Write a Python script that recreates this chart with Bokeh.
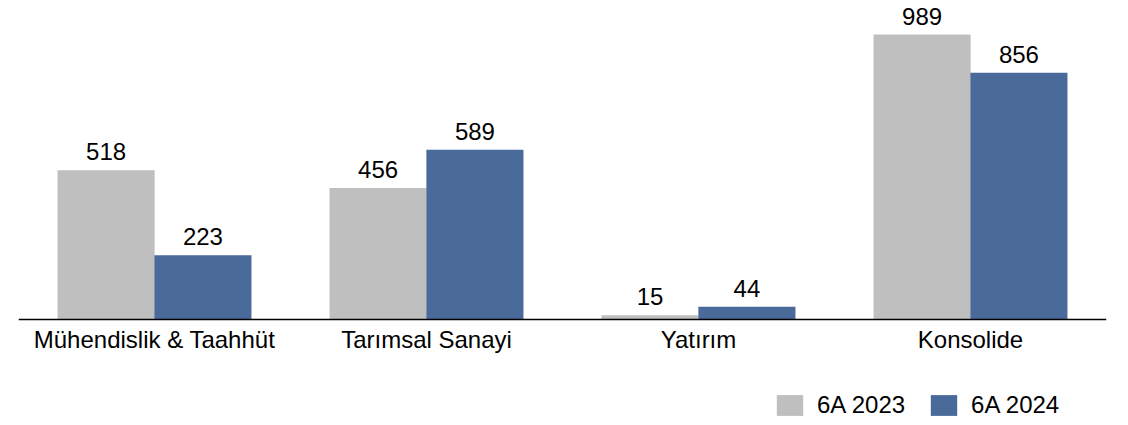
from bokeh.plotting import figure
from bokeh.models import ColumnDataSource, FactorRange, Legend, LegendItem, Range1d, LabelSet
from bokeh.transform import dodge
from bokeh.core.properties import value
from bokeh.embed import file_html
from bokeh.resources import INLINE

categories = ["Mühendislik & Taahhüt", "Tarımsal Sanayi", "Yatırım", "Konsolide"]
series_names = ["6A 2023", "6A 2024"]
values_2023 = [518, 456, 15, 989]
values_2024 = [223, 589, 44, 856]

FONT = "Liberation Sans"
GRAY = "#BFBFBF"
BLUE = "#4A6A9A"

src = ColumnDataSource(dict(
    cat=categories,
    v1=values_2023,
    v2=values_2024,
    t1=[str(v) for v in values_2023],
    t2=[str(v) for v in values_2024],
))

p = figure(
    x_range=FactorRange(*categories, range_padding=0),
    y_range=Range1d(-368, 1107),
    frame_width=1088, frame_height=425,
    min_border_left=18, min_border_right=14, min_border_top=0, min_border_bottom=0,
    output_backend="svg", toolbar_location=None,
)

w = 0.357
off = 0.178
r1 = p.vbar(x=dodge("cat", -off, range=p.x_range), top="v1", bottom=0, width=w, source=src,
            fill_color=GRAY, line_color=None)
r2 = p.vbar(x=dodge("cat", off, range=p.x_range), top="v2", bottom=0, width=w, source=src,
            fill_color=BLUE, line_color=None)

for col, tcol, o in (("v1", "t1", -off), ("v2", "t2", off)):
    labels = LabelSet(x=dodge("cat", o, range=p.x_range), y=col, text=tcol, source=src,
                      text_align="center", text_baseline="alphabetic", y_offset=10,
                      text_font=value(FONT), text_font_size=value("24px"),
                      text_color=value("#000000"))
    p.add_layout(labels)

p.yaxis.visible = False
p.xgrid.grid_line_color = None
p.ygrid.grid_line_color = None
p.outline_line_color = None
p.background_fill_color = None
p.border_fill_color = "white"

xa = p.xaxis[0]
xa.fixed_location = 0
xa.axis_line_color = "#000000"
xa.axis_line_width = 1.5
xa.major_tick_line_color = None
xa.minor_tick_line_color = None
xa.major_tick_in = 0
xa.major_tick_out = 0
xa.major_label_standoff = 7
xa.major_label_text_font = FONT
xa.major_label_text_font_size = "24px"
xa.major_label_text_color = "#000000"

legend = Legend(
    items=[LegendItem(label=series_names[0], renderers=[r1]),
           LegendItem(label=series_names[1], renderers=[r2])],
    orientation="horizontal",
    location=(755, 6),
    glyph_width=33, glyph_height=26,
    label_standoff=11, spacing=22, padding=0, margin=0,
    label_text_font=FONT, label_text_font_size="24px", label_text_color="#000000",
    border_line_color=None, background_fill_color=None,
)
p.add_layout(legend)

open("out.html", "w").write(file_html(p, INLINE))
